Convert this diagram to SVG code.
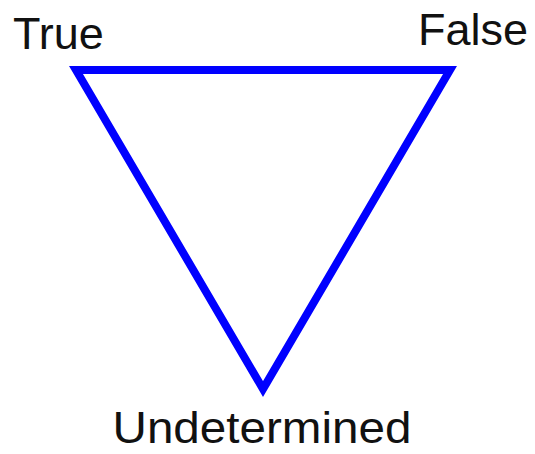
<svg xmlns="http://www.w3.org/2000/svg" width="535" height="454" viewBox="0 0 535 454">
<style>
.lbl{font-family:"Liberation Sans",Arial,sans-serif;font-size:45px;fill:#111}
.edge{fill:none;stroke:#0000ff;stroke-width:8;stroke-linejoin:miter}
</style>
<rect width="535" height="454" fill="#fff"/>
<g id="connectors">
<polygon class="edge" points="76,70 450,70 263,389"/>
</g>
<g id="true"><text class="lbl" x="13" y="49">True</text></g>
<g id="false"><text class="lbl" x="418" y="45">False</text></g>
<g id="undetermined"><text class="lbl" x="262" y="443" font-size="44" text-anchor="middle" textLength="299" lengthAdjust="spacingAndGlyphs">Undetermined</text></g>
</svg>
